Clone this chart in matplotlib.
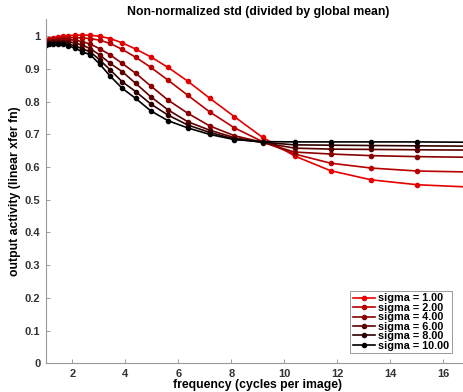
import numpy as np
import matplotlib.pyplot as plt

plt.rcParams['font.family'] = ['Liberation Sans', 'DejaVu Sans']
plt.rcParams['font.weight'] = 'bold'

# frequencies (cycles per image), log spaced from 1 to 17
freq = [1.00, 1.13, 1.28, 1.45, 1.64, 1.85, 2.09, 2.37, 2.68, 3.03, 3.43, 3.88,
        4.39, 4.96, 5.61, 6.35, 7.18, 8.12, 9.18, 10.39, 11.75, 13.29, 15.03, 17.00]

sigmas = [1, 2, 4, 6, 8, 10]

s1 = [0.990, 0.993, 0.996, 0.998, 1.000, 1.002, 1.003, 1.004, 1.003, 1.000, 0.993, 0.980,
      0.961, 0.937, 0.905, 0.863, 0.811, 0.754, 0.691, 0.634, 0.589, 0.561, 0.546, 0.539]
s2 = [0.985, 0.988, 0.991, 0.993, 0.995, 0.996, 0.996, 0.995, 0.993, 0.988, 0.978, 0.960,
      0.936, 0.905, 0.866, 0.820, 0.769, 0.720, 0.678, 0.640, 0.612, 0.597, 0.588, 0.585]
s4 = [0.982, 0.985, 0.987, 0.989, 0.990, 0.990, 0.988, 0.984, 0.976, 0.962, 0.943, 0.917,
      0.887, 0.848, 0.805, 0.765, 0.726, 0.696, 0.676, 0.646, 0.640, 0.635, 0.632, 0.630]
s6 = [0.978, 0.981, 0.983, 0.984, 0.984, 0.983, 0.980, 0.973, 0.962, 0.943, 0.917, 0.892,
      0.856, 0.815, 0.775, 0.739, 0.713, 0.690, 0.675, 0.658, 0.655, 0.654, 0.653, 0.652]
s8 = [0.975, 0.978, 0.980, 0.980, 0.979, 0.976, 0.971, 0.962, 0.952, 0.928, 0.897, 0.861,
      0.831, 0.793, 0.759, 0.729, 0.706, 0.686, 0.676, 0.668, 0.667, 0.666, 0.665, 0.664]
s10 = [0.972, 0.975, 0.977, 0.977, 0.975, 0.971, 0.964, 0.953, 0.943, 0.915, 0.878, 0.841,
       0.810, 0.772, 0.742, 0.720, 0.700, 0.684, 0.678, 0.677, 0.677, 0.677, 0.677, 0.676]

series = [s1, s2, s4, s6, s8, s10]
colors = [(0.9, 0, 0), (0.72, 0, 0), (0.54, 0, 0), (0.36, 0, 0), (0.18, 0, 0), (0, 0, 0)]

fig = plt.figure(figsize=(4.64, 3.92), dpi=100)
ax = fig.add_axes([0.099, 0.0732, 0.913, 0.8776])

for sig, vals, c in zip(sigmas, series, colors):
    ax.plot(freq, vals, '-o', color=c, lw=1.2, markersize=3, label=f'sigma = {sig:.2f}')

ax.set_xlim(1, 17)
ax.set_ylim(0, 1.052)
ax.set_xticks([2, 4, 6, 8, 10, 12, 14, 16])
ax.set_yticks([0, 0.1, 0.2, 0.3, 0.4, 0.5, 0.6, 0.7, 0.8, 0.9, 1])
ax.set_yticklabels(['0', '0.1', '0.2', '0.3', '0.4', '0.5', '0.6', '0.7', '0.8', '0.9', '1'])
ax.tick_params(direction='in', length=3, width=0.6, colors='0.55', labelsize=8,
               labelcolor='0.2', pad=4)
for side in ['top', 'right']:
    ax.spines[side].set_visible(False)
for side in ['left', 'bottom']:
    ax.spines[side].set_color('0.6')
    ax.spines[side].set_linewidth(0.8)

ax.set_title('Non-normalized std (divided by global mean)', fontsize=8.8, fontweight='bold', pad=3)
ax.set_xlabel('frequency (cycles per image)', fontsize=8.8, fontweight='bold', labelpad=0)
ax.set_ylabel('output activity (linear xfer fn)', fontsize=8.8, fontweight='bold', labelpad=3)

leg = ax.legend(loc='upper right', bbox_to_anchor=(0.9735, 0.2584), bbox_transform=fig.transFigure,
                borderaxespad=0, fontsize=7.8, handlelength=2.0, handletextpad=0.3,
                labelspacing=-0.05, borderpad=0.25, fancybox=False, framealpha=1)
leg.get_frame().set_edgecolor('0.55')
leg.get_frame().set_linewidth(0.6)

fig.savefig('out.png', dpi=100)
